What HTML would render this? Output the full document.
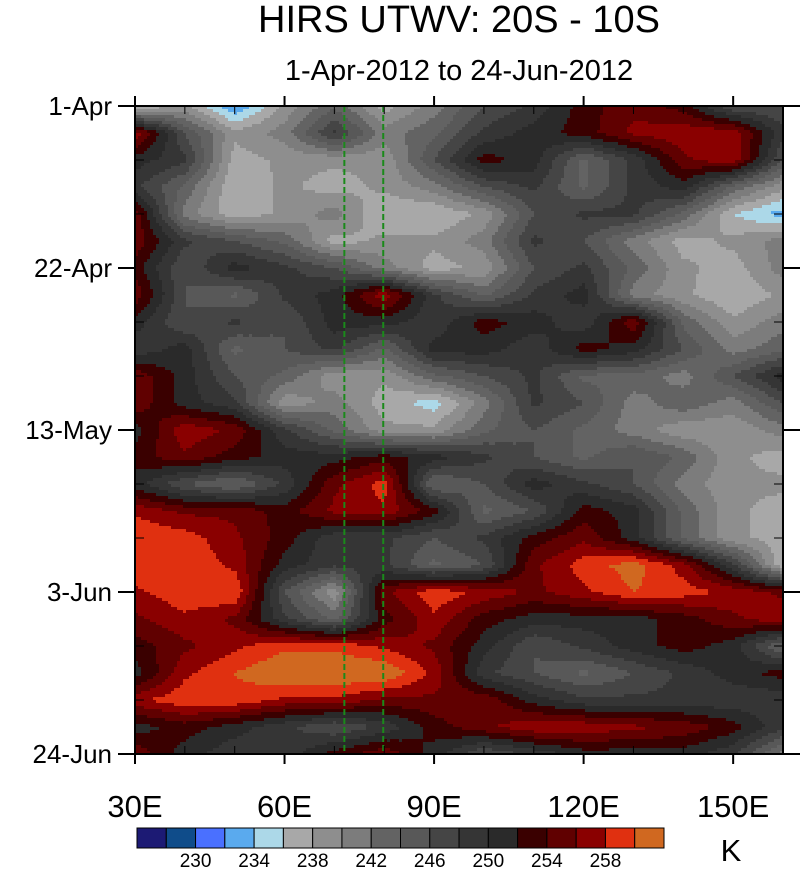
<!DOCTYPE html>
<html><head><meta charset="utf-8"><style>
body{margin:0;background:#fff;}
svg{display:block;font-family:"Liberation Sans",sans-serif;}
</style></head><body>
<svg id="chart" width="802" height="869" viewBox="0 0 802 869">
<text x="459" y="32" font-size="38" text-anchor="middle">HIRS UTWV: 20S - 10S</text>
<text x="459" y="80" font-size="29" text-anchor="middle">1-Apr-2012 to 24-Jun-2012</text>
<g id="field"></g>
<g id="axes"></g>
<g id="cbar"></g>
</svg>
<script>
const lons = [30,40,50,60,70,80,90,100,110,120,130,140,150,160];
const days = [0,3.5,7,10.5,14,17.5,21,24.5,28,31.5,35,38.5,42,45.5,49,52.5,56,59.5,63,66.5,70,73.5,77,80.5,84];
const values = [
[236,238.5,232,238.5,243.5,237,241,246,248.5,253,255.5,253,246,246],
[257.5,246,238.5,241,248.5,241,243.5,248.5,251,253,256.5,257.5,257.5,248.5],
[251,248.5,237,238.5,238.5,238.5,246,253,251,243.5,248.5,255.5,257.5,246],
[248.5,243.5,236,238.5,237,238.5,241,246,248.5,243.5,248.5,251,243.5,238.5],
[255.5,241,236.5,238.5,241,236,236,238.5,246,248.5,248.5,243.5,236,233],
[255.5,248.5,246,243.5,237,238.5,238.5,241,248.5,246,241,237,238.5,241],
[253,246,251,248.5,246,241,237,238.5,246,248.5,243.5,238.5,237,241],
[255.5,246,243.5,248.5,251,257.5,248.5,243.5,248.5,251,241,238.5,236,238.5],
[251,246,248.5,246,251,251,248.5,253,251,248.5,255.5,243.5,238.5,241],
[248.5,251,243.5,246,248.5,243.5,251,251,248.5,253,251,246,241,243.5],
[255.5,251,246,243.5,238.5,238.5,243.5,246,248.5,243.5,243.5,241,246,251],
[255.5,251,248.5,238.5,241,237,235,241,248.5,246,241,243.5,241,246],
[251,257.5,255.5,248.5,243.5,238.5,238.5,243.5,246,243.5,241,238.5,238.5,241],
[253,255.5,253,251,251,253,251,248.5,246,243.5,246,243.5,238.5,237],
[251,246,243.5,248.5,255.5,259,243.5,246,251,248.5,246,241,238.5,238.5],
[257.5,255.5,255.5,253,256.5,257.5,253,243.5,246,253,251,243.5,238.5,237],
[260,259,256.5,253,248.5,248.5,246,248.5,253,255.5,251,243.5,238.5,237],
[260,259.5,257.5,251,248.5,248.5,243.5,246,255.5,259,261,257,248.5,236],
[257.5,259.5,260,246,238.5,255.5,259.5,257.5,255.5,257.5,260,259,257.5,255.5],
[255.5,257.5,255.5,248.5,243.5,253,257.5,253,251,251,251,253,255.5,257.5],
[253,255.5,257.5,259.5,259.5,257.5,255.5,251,246,248.5,251,253,251,243.5],
[251,257.5,260,262,262,262,257.5,248.5,246,243.5,246,248.5,251,253],
[257.5,259.5,259.5,257.5,257.5,255.5,255.5,255.5,251,248.5,248.5,248.5,248.5,248.5],
[251,253,251,248.5,246,248.5,253,255.5,257.5,257.5,256.5,255.5,253,248.5],
[255.5,251,248.5,248.5,253,255.5,251,246,248.5,251,251,251,248.5,241]
];
const levels = [228,230,232,234,236,238,240,242,244,246,248,250,252,254,256,258,260];
const cbLabels = [230,234,238,242,246,250,254,258];
const colors = ["#1c1a74","#0f4c8a","#4a70ff","#5aaaee","#acd8e8","#a8a8a8","#8e8e8e","#7c7c7c","#636363","#585858","#454545","#353535","#2a2a2a","#3a0000","#600000","#8a0000","#e03010","#d06820"];
const dayTicks = [0,21,42,63,84];
const dayLabels = ["1-Apr","22-Apr","13-May","3-Jun","24-Jun"];
const lonTicks = [30,60,90,120,150];
const lonLabels = ["30E","60E","90E","120E","150E"];
const refLons = [72,79.8];

const X0=135,X1=783,Y0=106,Y1=754;
const xs = l => X0+(l-30)/(160-30)*(X1-X0);
const ys = d => Y0+d/84*(Y1-Y0);
const NS="http://www.w3.org/2000/svg";
function mk(tag,attrs,parent){const e=document.createElementNS(NS,tag);for(const k in attrs)e.setAttribute(k,attrs[k]);parent.appendChild(e);return e;}
function colorFor(v){let i=0;while(i<levels.length&&v>=levels[i])i++;return colors[i];}
function interp(lon,day){
  let i=0;while(i<lons.length-2&&lon>lons[i+1])i++;
  let j=0;while(j<days.length-2&&day>days[j+1])j++;
  const tx=Math.min(1,Math.max(0,(lon-lons[i])/(lons[i+1]-lons[i])));
  const ty=Math.min(1,Math.max(0,(day-days[j])/(days[j+1]-days[j])));
  const a=values[j][i],b=values[j][i+1],c=values[j+1][i],d=values[j+1][i+1];
  return a*(1-tx)*(1-ty)+b*tx*(1-ty)+c*(1-tx)*ty+d*tx*ty;
}
const field=document.getElementById('field');
const dx=3,dy=3;
for(let y=Y0;y<Y1;y+=dy){
  const h=Math.min(dy,Y1-y);
  const day=(y+h/2-Y0)/(Y1-Y0)*84;
  let runStart=X0,runCol=null;
  for(let x=X0;x<=X1+dx;x+=dx){
    let col=null;
    if(x<X1){const lon=30+(Math.min(x+dx/2,X1)-X0)/(X1-X0)*130;col=colorFor(interp(lon,day));}
    if(col!==runCol){
      if(runCol!==null){
        const r=mk('rect',{x:runStart,y:y,width:Math.min(x,X1)-runStart+0.5,height:h+0.5,fill:runCol},field);
        
        
      }
      runStart=x;runCol=col;
    }
    if(x>=X1)break;
  }
}
const axes=document.getElementById('axes');
refLons.forEach(l=>{
  const ln=mk('line',{x1:xs(l),x2:xs(l),y1:Y0,y2:Y1,stroke:"#1a8a1a","stroke-width":2,"stroke-dasharray":"6,3"},axes);
  
  
});
mk('rect',{x:X0,y:Y0,width:X1-X0,height:Y1-Y0,fill:"none",stroke:"#000","stroke-width":2},axes);
for(let d=0;d<=84;d+=7){
  const y=ys(d);const maj=dayTicks.includes(d);
  mk('line',{x1:maj?X0-17:X0,x2:maj?X0:X0+9,y1:y,y2:y,stroke:"#000","stroke-width":maj?2:1},axes);
  mk('line',{x1:maj?X1:X1-9,x2:maj?X1+17:X1,y1:y,y2:y,stroke:"#000","stroke-width":maj?2:1},axes);
}
for(let l=30;l<=160;l+=10){
  const x=xs(l);const maj=lonTicks.includes(l);
  mk('line',{x1:x,x2:x,y1:maj?Y0-10:Y0,y2:maj?Y0:Y0+8,stroke:"#000","stroke-width":maj?2:1},axes);
  mk('line',{x1:x,x2:x,y1:maj?Y1:Y1-8,y2:maj?Y1+10:Y1,stroke:"#000","stroke-width":maj?2:1},axes);
}
dayTicks.forEach((d,i)=>{
  const t=mk('text',{x:X0-23,y:ys(d)+9,"font-size":26,"text-anchor":"end"},axes);
  t.textContent=dayLabels[i];
  
  
});
lonTicks.forEach((l,i)=>{
  const t=mk('text',{x:xs(l),y:817,"font-size":31,"text-anchor":"middle"},axes);
  t.textContent=lonLabels[i];
  
  
});
const cb=document.getElementById('cbar');
const CX0=137,CX1=664,CY=828,CH=20,bw=(CX1-CX0)/colors.length;
colors.forEach((c,i)=>{
  const r=mk('rect',{x:CX0+i*bw,y:CY,width:bw,height:CH,fill:c,stroke:"#000","stroke-width":1},cb);
  
  
});
cbLabels.forEach(v=>{
  const k=levels.indexOf(v)+1;
  const t=mk('text',{x:CX0+k*bw,y:867,"font-size":19,"text-anchor":"middle"},cb);
  t.textContent=v;
  
  
});
const kt=mk('text',{x:731,y:861,"font-size":31,"text-anchor":"middle"},cb);
kt.textContent="K";


</script>
</body></html>
